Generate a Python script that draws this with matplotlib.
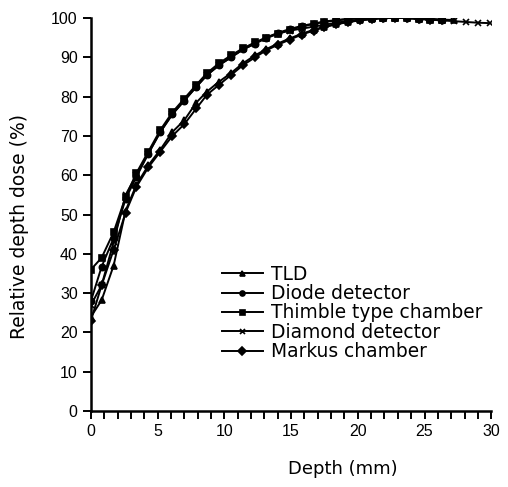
import numpy as np
import matplotlib
matplotlib.use('Agg')
import matplotlib.pyplot as plt

plt.rcParams['font.family'] = ['Liberation Sans', 'DejaVu Sans']
plt.rcParams['font.size'] = 11

# depth of the measuring points (mm)
depth = [0, 0.8, 1.7, 2.6, 3.4, 4.3, 5.2, 6.1, 7.0, 7.9, 8.7, 9.6, 10.5, 11.4, 12.3,
         13.1, 14.0, 14.9, 15.8, 16.7, 17.5, 18.4, 19.3, 20.2, 21.1, 21.9, 22.8, 23.7,
         24.6, 25.4, 26.3, 27.2, 28.1, 29.0, 29.9]

tld = [24, 28.2, 37, 51, 57.5, 62.5, 66.5, 71, 74, 78.5, 81.3, 83.8, 86, 88.5, 90.5, 92,
       93.5, 94.8, 96, 97, 97.8, 98.5, 99, 99.5, 99.8, 100, 100, 100.5, 100, 99.8, 99.6, 99.5]
diode = [28, 36.7, 44, 54, 59.5, 65.5, 71, 75.5, 79, 82.5, 85.5, 88, 90, 92, 93.5, 95,
         96.2, 97.2, 98, 98.6, 99.1, 99.5, 99.8, 100, 100, 100, 100.3, 100, 99.8, 99.7, 99.5]
thimble = [36, 39, 45.5, 54.5, 60.5, 66, 71.5, 76, 79.5, 83, 86, 88.5, 90.5, 92.3, 93.8, 95,
           96, 97, 97.8, 98.5, 99, 99.4, 99.7, 100, 100, 100, 100, 100, 99.8, 99.6, 99.4]
diamond = [27, 32, 43, 55, 60, 65.5, 71, 75.5, 79, 82.5, 85.5, 88, 90, 92, 93.5, 94.8, 96,
           96.8, 97.3, 97.8, 98.3, 98.8, 99.3, 99.6, 99.8, 100, 100, 100, 99.8, 99.6, 99.4,
           99.2, 99, 98.8, 98.7]
markus = [23, 32, 41, 50.5, 57, 62, 66, 70, 73, 77, 80.5, 83, 85.5, 88, 90, 91.7, 93.2,
          94.5, 95.8, 96.8, 97.7, 98.4, 99, 99.4, 99.7, 100, 100, 100, 99.8, 99.6, 99.4]

series = [("TLD", tld, '^'),
          ("Diode detector", diode, 'o'),
          ("Thimble type chamber", thimble, 's'),
          ("Diamond detector", diamond, 'x'),
          ("Markus chamber", markus, 'D')]

fig = plt.figure(figsize=(5.08, 4.87), dpi=100)
ax = fig.add_axes([0.179, 0.156, 0.788, 0.807])

for name, vals, mk in series:
    ax.plot(depth[:len(vals)], vals, color='black', linewidth=1.4, marker=mk,
            markersize=4.5, markeredgewidth=1.2, label=name)

ax.set_xlim(0, 30)
ax.set_ylim(0, 100)
ax.set_xticks(np.arange(0, 31, 5))
ax.set_xticks(np.arange(0, 31, 1), minor=True)
ax.set_yticks(np.arange(0, 101, 10))
ax.tick_params(which='both', direction='out', length=6, width=1.4, color='black',
               labelsize=11.5)
ax.spines['top'].set_visible(False)
ax.spines['right'].set_visible(False)
ax.spines['left'].set_linewidth(1.8)
ax.spines['bottom'].set_linewidth(1.8)

ax.set_xlabel("Depth (mm)", fontsize=13, family='DejaVu Sans')
ax.set_ylabel("Relative depth dose (%)", fontsize=13.5, family='DejaVu Sans')
ax.xaxis.set_label_coords(0.63, -0.125)
ax.yaxis.set_label_coords(-0.155, 0.47)

ax.legend(loc='upper left', bbox_to_anchor=(0.285, 0.415), frameon=False,
          prop={'family': 'DejaVu Sans', 'size': 13.4},
          handlelength=2.2, labelspacing=0.02, handletextpad=0.45, markerscale=0.8)

fig.savefig('out.png', dpi=100)
